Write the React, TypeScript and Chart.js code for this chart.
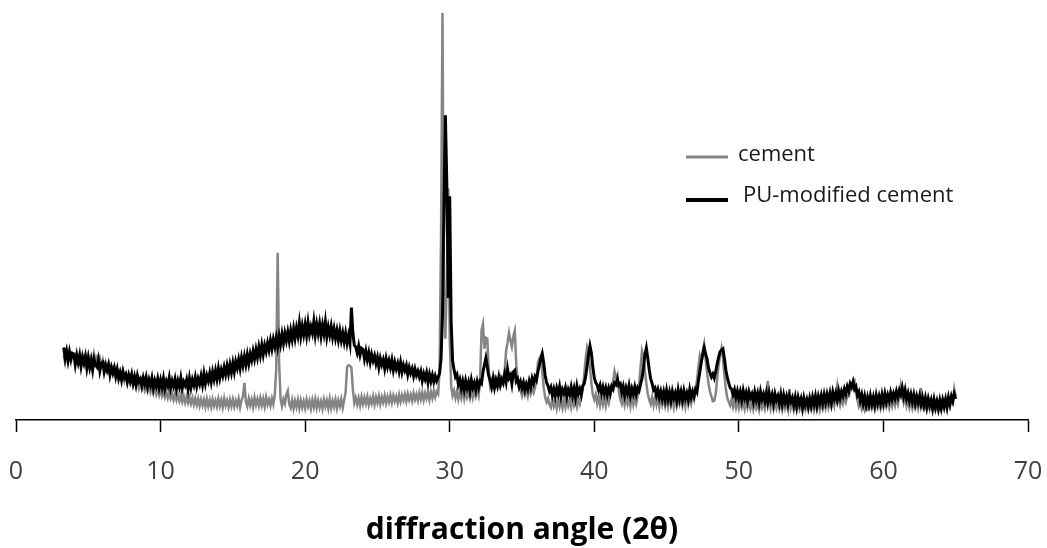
import React, { useEffect, useRef } from "react";
import { Chart, registerables } from "chart.js";

Chart.register(...registerables);

// diffraction angle grid (2θ), degrees
const ANGLE_START = 3.3;
const ANGLE_STEP = 0.1;
const X_TICKS = [0, 10, 20, 30, 40, 50, 60, 70];

const SERIES_LABELS = ["cement", "PU-modified cement"];

// relative intensity, cement (grey trace)
const CEMENT = [
  15.9, 14.1, 16.6, 14.8, 16.0, 14.3, 16.2, // 3.3-3.9
  15.8, 14.0, 16.4, 14.5, 15.6, 13.8, 16.1, 14.6, 15.9, 14.2, // 4
  16.0, 14.4, 15.7, 13.9, 16.3, 14.7, 15.5, 14.1, 15.2, 13.6, // 5
  14.8, 13.0, 14.2, 12.6, 13.7, 12.1, 13.2, 11.6, 12.9, 11.2, // 6
  12.3, 10.5, 11.8, 10.2, 11.3, 9.6, 11.0, 9.4, 10.5, 9.0, // 7
  10.1, 8.6, 9.7, 8.2, 9.4, 7.8, 9.1, 7.6, 8.9, 7.3, // 8
  8.6, 7.1, 8.4, 6.8, 8.1, 6.6, 7.9, 6.3, 7.6, 6.1, // 9
  7.4, 5.9, 7.1, 5.6, 6.9, 5.4, 6.8, 5.3, 6.5, 5.0, // 10
  6.4, 4.9, 6.2, 4.7, 6.0, 4.5, 5.9, 4.3, 5.7, 4.2, // 11
  5.5, 4.0, 5.4, 3.8, 5.3, 3.7, 5.2, 3.5, 5.1, 3.6, // 12
  5.0, 3.3, 5.2, 3.4, 4.9, 3.2, 5.1, 3.5, 4.8, 3.3, // 13
  5.2, 3.4, 4.9, 3.1, 5.3, 3.6, 4.8, 3.2, 5.0, 3.4, // 14
  5.1, 3.3, 4.8, 3.5, 5.2, 3.1, 4.9, 5.8, 9.1, 4.6, // 15
  3.4, 5.3, 3.6, 5.0, 3.2, 5.5, 3.7, 5.1, 3.5, 5.4, // 16
  3.6, 5.2, 3.3, 5.6, 3.8, 5.0, 3.5, 5.3, 3.9, 6.2, // 17
  12.5, 41.1, 14.0, 5.2, 3.4, 5.1, 4.0, 6.3, 7.2, 3.9, // 18
  3.0, 4.9, 2.8, 4.7, 3.2, 5.0, 2.9, 4.8, 3.1, 4.6, // 19
  2.9, 5.0, 3.3, 4.7, 2.8, 4.9, 3.2, 5.1, 3.0, 4.8, // 20
  3.1, 4.6, 2.8, 5.0, 3.3, 4.8, 2.9, 5.2, 3.0, 4.7, // 21
  3.2, 5.0, 2.9, 4.8, 3.4, 5.1, 3.0, 4.9, 6.8, 13.0, // 22
  13.5, 13.3, 12.9, 7.6, 4.2, 5.5, 3.8, 5.4, 3.6, 5.6, // 23
  3.9, 5.5, 4.0, 5.7, 3.7, 5.3, 4.1, 5.8, 3.8, 5.6, // 24
  4.2, 5.9, 3.9, 5.6, 4.3, 6.0, 4.1, 5.7, 4.4, 6.1, // 25
  4.3, 6.0, 4.6, 5.8, 4.2, 6.2, 4.5, 6.1, 4.8, 6.3, // 26
  4.6, 6.4, 4.9, 6.2, 4.7, 6.6, 5.0, 6.3, 4.8, 6.7, // 27
  5.1, 6.8, 4.9, 6.6, 5.3, 7.0, 5.0, 6.9, 5.4, 7.2, // 28
  5.6, 7.0, 6.4, 12.0, 45.0, 100, 30.0, 20.0, 35.0, 56.9, // 29
  20.0, 8.5, 6.0, 7.2, 5.4, 7.0, 5.1, 6.8, 5.3, 7.1, // 30
  5.2, 7.3, 5.6, 7.0, 5.4, 7.6, 5.5, 7.2, 5.8, 7.4, // 31
  6.0, 9.5, 22.0, 23.6, 17.5, 20.2, 20.0, 12.0, 8.3, 9.6, // 32
  8.4, 10.0, 8.7, 9.9, 8.9, 10.4, 9.0, 10.2, 12.0, 17.0, // 33
  19.0, 21.4, 19.5, 18.0, 20.5, 21.9, 14.0, 9.5, 8.0, 7.4, // 34
  6.0, 7.8, 6.2, 7.4, 5.9, 8.1, 6.4, 7.6, 6.7, 8.0, // 35
  9.5, 14.0, 15.2, 15.8, 12.0, 8.0, 5.6, 4.4, 5.3, 3.8, // 36
  3.1, 5.0, 3.4, 4.8, 2.9, 5.2, 3.3, 4.9, 3.0, 5.1, // 37
  3.2, 5.3, 3.5, 4.9, 3.1, 5.2, 3.6, 5.0, 3.3, 5.4, // 38
  4.0, 5.8, 7.5, 11.0, 15.0, 17.7, 16.0, 13.0, 9.0, 6.2, // 39
  5.0, 6.3, 4.1, 5.8, 3.6, 5.5, 3.8, 5.6, 3.5, 5.7, // 40
  4.2, 6.0, 7.8, 9.5, 12.0, 10.4, 11.2, 7.0, 5.1, 4.0, // 41
  5.8, 3.7, 5.5, 3.9, 5.6, 3.4, 5.9, 3.8, 5.5, 4.0, // 42
  5.8, 8.5, 13.0, 17.0, 15.6, 12.0, 9.0, 6.4, 5.0, 3.9, // 43
  5.6, 3.6, 5.4, 3.8, 5.7, 3.3, 5.5, 3.7, 5.3, 3.5, // 44
  5.6, 3.4, 5.8, 3.7, 5.3, 3.2, 5.6, 3.6, 5.4, 3.9, // 45
  5.5, 3.6, 5.7, 3.4, 5.9, 3.8, 5.5, 4.0, 6.2, 5.0, // 46
  7.6, 9.5, 13.0, 15.8, 14.5, 17.0, 18.7, 15.0, 11.5, 9.0, // 47
  7.0, 5.8, 4.6, 4.7, 6.5, 10.0, 13.5, 16.0, 17.7, 15.2, // 48
  11.0, 7.6, 5.4, 4.5, 3.6, 5.0, 3.2, 4.8, 3.0, 4.6, // 49
  2.9, 4.7, 3.1, 4.4, 2.7, 4.6, 3.0, 4.3, 2.8, 4.5, // 50
  2.6, 4.4, 2.9, 4.2, 2.5, 4.6, 3.0, 4.3, 2.7, 4.5, // 51
  9.6, 5.0, 2.8, 4.4, 2.6, 4.3, 2.9, 4.6, 2.7, 4.2, // 52
  2.5, 4.4, 2.8, 4.1, 2.6, 7.6, 3.0, 4.3, 2.4, 4.0, // 53
  2.3, 4.2, 2.6, 3.9, 2.2, 4.1, 2.5, 3.8, 2.4, 4.0, // 54
  2.6, 4.3, 2.4, 4.1, 2.7, 4.4, 2.5, 4.2, 2.8, 4.5, // 55
  2.9, 4.6, 3.0, 4.4, 3.2, 4.8, 3.4, 6.2, 8.4, 5.0, // 56
  3.6, 5.2, 4.0, 5.6, 4.4, 6.0, 5.8, 7.2, 8.2, 9.0, // 57
  9.6, 7.0, 5.0, 3.4, 4.6, 2.8, 4.2, 2.6, 4.0, 2.5, // 58
  2.7, 4.3, 2.9, 4.1, 2.6, 4.4, 3.0, 4.2, 2.8, 4.6, // 59
  3.1, 4.8, 3.3, 4.5, 3.0, 4.9, 3.4, 5.1, 3.6, 5.3, // 60
  3.9, 5.8, 8.4, 6.0, 4.2, 5.6, 3.5, 5.0, 3.1, 4.6, // 61
  2.9, 4.5, 3.0, 4.3, 2.8, 4.7, 7.9, 3.2, 2.7, 4.2, // 62
  2.5, 4.0, 2.6, 3.8, 2.3, 4.1, 2.4, 3.7, 2.2, 3.9, // 63
  2.4, 4.1, 2.7, 4.3, 2.9, 4.6, 3.3, 5.2, 4.4, 7.6, // 64
  5.8, // 65.0
];

// relative intensity, PU-modified cement (black trace)
const PU_CEMENT = [
  17.8, 15.2, 16.9, 14.6, 16.8, 15.0, 16.4, // 3.3-3.9
  16.2, 13.6, 15.8, 14.1, 15.9, 13.2, 15.3, 13.9, 15.6, 12.8, // 4
  15.1, 12.9, 14.6, 12.3, 14.9, 13.5, 13.0, 14.8, 12.1, 13.9, // 5
  14.2, 11.8, 13.4, 12.2, 13.6, 11.1, 12.9, 11.5, 12.8, 10.7, // 6
  12.4, 10.2, 11.6, 9.8, 11.9, 10.4, 11.2, 9.3, 11.0, 9.6, // 7
  11.2, 9.0, 10.6, 8.7, 10.9, 9.4, 10.1, 8.5, 10.4, 8.9, // 8
  10.5, 8.2, 9.9, 8.6, 10.3, 7.9, 9.7, 8.4, 10.1, 8.0, // 9
  9.8, 8.1, 10.2, 7.8, 9.5, 8.4, 10.4, 7.9, 9.6, 8.3, // 10
  10.0, 7.7, 9.6, 8.2, 10.3, 7.8, 9.4, 8.5, 9.9, 7.6, // 11
  10.2, 8.0, 9.9, 8.6, 10.5, 8.3, 10.1, 8.9, 10.8, 8.7, // 12
  11.3, 9.0, 10.9, 9.6, 11.5, 9.4, 11.8, 10.0, 12.1, 10.1, // 13
  12.6, 10.4, 12.3, 10.9, 12.9, 11.2, 13.3, 11.4, 13.6, 11.7, // 14
  14.0, 11.9, 14.3, 12.8, 14.8, 12.7, 15.3, 13.4, 15.6, 13.6, // 15
  16.0, 13.9, 16.2, 14.7, 16.9, 15.0, 17.3, 15.4, 17.9, 15.9, // 16
  18.4, 16.1, 18.3, 16.8, 18.9, 17.2, 19.5, 17.5, 19.8, 18.1, // 17
  20.2, 18.0, 20.6, 18.6, 21.1, 18.9, 21.3, 19.5, 21.6, 19.4, // 18
  21.9, 19.8, 22.4, 20.1, 22.6, 20.7, 23.8, 20.6, 23.1, 21.0, // 19
  23.4, 20.8, 23.9, 21.1, 22.9, 21.4, 24.2, 20.9, 23.5, 21.3, // 20
  23.6, 20.7, 23.3, 21.2, 24.1, 20.5, 22.8, 20.9, 23.0, 20.4, // 21
  22.4, 20.1, 22.0, 19.7, 21.9, 19.6, 21.4, 19.2, 21.3, 18.9, // 22
  20.8, 18.8, 27.6, 21.5, 18.4, 17.9, 16.5, 18.2, 16.0, 17.6, // 23
  17.3, 15.0, 16.9, 14.8, 16.5, 14.2, 16.1, 14.6, 15.8, 13.9, // 24
  15.4, 13.0, 15.1, 13.6, 14.8, 12.7, 15.0, 13.1, 14.6, 12.9, // 25
  14.7, 12.3, 14.2, 12.6, 13.9, 12.0, 14.1, 11.8, 13.5, 12.2, // 26
  13.4, 11.2, 12.9, 11.5, 12.6, 10.8, 12.5, 11.0, 12.0, 10.6, // 27
  11.9, 9.7, 11.4, 10.1, 11.6, 9.3, 11.2, 9.5, 11.0, 9.4, // 28
  10.8, 9.6, 10.5, 11.5, 15.0, 26.0, 52.0, 74.9, 58.0, 30.0, // 29
  55.0, 24.0, 14.5, 12.4, 10.6, 11.2, 8.7, 9.9, 7.8, 9.5, // 30
  7.5, 9.6, 7.9, 9.3, 7.2, 9.8, 8.0, 9.1, 7.4, 9.4, // 31
  7.9, 9.5, 9.0, 11.8, 13.5, 15.2, 13.0, 10.9, 9.6, 8.1, // 32
  10.2, 8.0, 9.8, 8.4, 10.5, 8.6, 10.0, 9.1, 11.2, 9.4, // 33
  12.5, 10.3, 11.0, 8.9, 11.8, 12.2, 9.5, 10.1, 8.2, 9.4, // 34
  7.9, 9.2, 7.4, 8.8, 7.6, 9.5, 8.1, 10.2, 9.0, 10.6, // 35
  9.8, 11.9, 13.4, 15.0, 16.3, 14.1, 11.0, 9.2, 8.4, 7.1, // 36
  8.0, 6.1, 7.6, 5.9, 7.8, 6.4, 8.2, 5.8, 7.5, 6.6, // 37
  7.9, 5.7, 7.4, 6.3, 8.1, 6.0, 7.7, 5.6, 8.3, 6.5, // 38
  7.6, 6.2, 8.4, 8.9, 10.6, 13.2, 16.1, 18.2, 16.4, 13.0, // 39
  10.4, 9.2, 8.6, 7.3, 8.5, 6.6, 8.1, 6.4, 7.9, 6.2, // 40
  7.8, 6.5, 8.3, 7.6, 9.1, 8.7, 10.0, 8.5, 8.9, 6.8, // 41
  8.2, 6.1, 7.9, 6.6, 8.4, 6.0, 7.7, 6.4, 8.1, 6.3, // 42
  7.9, 7.2, 8.8, 10.2, 12.8, 16.0, 17.7, 15.2, 12.4, 10.1, // 43
  9.0, 7.4, 7.9, 6.1, 7.4, 5.5, 7.0, 5.2, 6.9, 5.0, // 44
  7.2, 5.1, 6.8, 4.8, 7.0, 5.4, 6.6, 4.7, 7.3, 5.2, // 45
  6.9, 4.9, 7.1, 5.3, 6.6, 5.0, 7.4, 5.6, 7.0, 5.8, // 46
  7.5, 6.8, 9.6, 11.8, 14.2, 16.0, 17.7, 16.3, 15.0, 12.8, // 47
  11.6, 10.6, 11.3, 10.3, 11.9, 13.8, 15.4, 16.8, 17.2, 17.5, // 48
  15.1, 12.3, 10.4, 9.1, 7.9, 7.6, 6.2, 7.4, 5.6, 7.1, // 49
  5.3, 6.9, 5.0, 7.2, 5.4, 6.7, 4.8, 6.9, 5.5, 6.4, // 50
  4.6, 6.8, 5.0, 6.5, 4.4, 6.9, 5.1, 6.3, 4.7, 6.6, // 51
  4.3, 6.6, 4.8, 6.2, 4.1, 6.4, 4.9, 5.9, 4.2, 6.3, // 52
  4.0, 6.1, 4.4, 5.8, 3.9, 5.9, 4.5, 5.5, 3.7, 5.6, // 53
  3.4, 5.5, 3.9, 5.2, 3.1, 5.4, 3.7, 5.0, 3.3, 5.3, // 54
  3.6, 5.6, 3.9, 5.8, 3.5, 5.7, 4.2, 6.0, 4.1, 6.2, // 55
  4.4, 6.3, 4.7, 6.5, 4.3, 6.8, 5.2, 6.6, 4.9, 7.1, // 56
  5.4, 7.0, 5.9, 7.6, 6.4, 8.2, 7.1, 8.9, 8.1, 9.4, // 57
  7.6, 8.2, 6.1, 6.9, 4.8, 6.2, 4.1, 5.8, 3.7, 5.5, // 58
  3.8, 5.9, 4.0, 5.6, 3.7, 6.0, 4.2, 5.8, 4.1, 6.2, // 59
  4.3, 6.4, 4.5, 6.1, 4.8, 6.7, 5.1, 6.5, 5.3, 7.0, // 60
  5.6, 7.3, 6.2, 7.9, 5.8, 7.4, 5.3, 6.6, 4.7, 6.3, // 61
  4.5, 6.2, 4.1, 5.8, 4.3, 5.9, 3.8, 5.5, 3.6, 5.4, // 62
  3.3, 5.2, 3.6, 4.9, 2.9, 5.0, 3.1, 4.6, 2.8, 4.8, // 63
  3.0, 4.9, 3.4, 5.1, 3.2, 5.5, 3.9, 5.8, 4.6, 6.4, // 64
  5.2, // 65.0
];

const X_TITLE = "diffraction angle (2\u03b8)";

const GREY = "#858585";
const BLACK = "#000000";

const toPoints = (vals: number[]) =>
  vals.map((y, i) => ({ x: Math.round((ANGLE_START + i * ANGLE_STEP) * 10) / 10, y }));

const legendPlugin = {
  id: "insideLegend",
  afterDatasetsDraw(chart: any) {
    const { ctx, chartArea } = chart;
    const x0 = chartArea.left + 670;
    const items = [
      { label: SERIES_LABELS[0], color: GREY, width: 3, y: 157, textY: 155, textX: 722 },
      { label: SERIES_LABELS[1], color: BLACK, width: 4, y: 200, textY: 196, textX: 727 },
    ];
    ctx.save();
    items.forEach((it) => {
      ctx.beginPath();
      ctx.strokeStyle = it.color;
      ctx.lineWidth = it.width;
      ctx.moveTo(x0, it.y);
      ctx.lineTo(x0 + 42, it.y);
      ctx.stroke();
      ctx.fillStyle = "#1a1a1a";
      ctx.font = "22px 'Open Sans'";
      ctx.textBaseline = "middle";
      ctx.textAlign = "left";
      ctx.fillText(it.label, chartArea.left + it.textX, it.textY);
    });
    ctx.restore();
  },
};

export default function App() {
  const ref = useRef<HTMLCanvasElement | null>(null);

  useEffect(() => {
    if (!ref.current) return;
    const chart = new Chart(ref.current, {
      type: "line",
      data: {
        datasets: [
          {
            label: SERIES_LABELS[1],
            data: toPoints(PU_CEMENT),
            borderColor: BLACK,
            borderWidth: 3,
            pointRadius: 0,
            tension: 0,
            order: 0,
          },
          {
            label: SERIES_LABELS[0],
            data: toPoints(CEMENT),
            borderColor: GREY,
            borderWidth: 2.5,
            pointRadius: 0,
            tension: 0,
            order: 1,
          },
        ],
      },
      options: {
        responsive: false,
        animation: false,
        devicePixelRatio: 1,
        layout: { padding: { left: 16, right: 19, top: 13, bottom: 0 } },
        plugins: {
          legend: { display: false },
          tooltip: { enabled: false },
        },
        scales: {
          x: {
            type: "linear",
            min: X_TICKS[0],
            max: X_TICKS[X_TICKS.length - 1],
            afterBuildTicks: (scale: any) => {
              scale.ticks = X_TICKS.map((v) => ({ value: v }));
            },
            afterFit: (scale: any) => {
              scale.height = 128;
            },
            border: { display: true, color: "#000", width: 1.5 },
            grid: {
              drawOnChartArea: false,
              drawTicks: true,
              tickLength: 12,
              tickColor: "#000",
              tickWidth: 1.5,
            },
            ticks: {
              padding: 2,
              color: "#404040",
              font: { family: "'Open Sans'", size: 25, lineHeight: 3.0 },
              maxRotation: 0,
            },
            title: {
              display: true,
              text: X_TITLE,
              color: "#000",
              font: { family: "'Open Sans'", size: 30, weight: "bold" },
              padding: { top: 0, bottom: 0 },
            },
          },
          y: {
            display: false,
            min: 0,
            max: 100,
          },
        },
      },
      plugins: [legendPlugin],
    });
    return () => chart.destroy();
  }, []);

  return (
    <div style={{ position: "absolute", left: 0, top: 0, width: 1047, height: 548, background: "#fff" }}>
      <canvas ref={ref} width={1047} height={548} />
    </div>
  );
}
